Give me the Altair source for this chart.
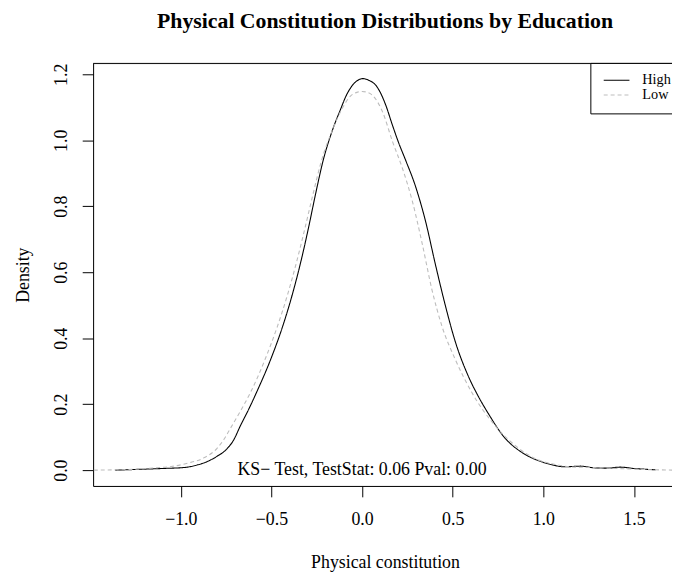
import altair as alt
import pandas as pd

# ---- data ----
high_x = [-1.362, -1.25, -1.10, -0.98, -0.907, -0.85, -0.80, -0.75, -0.71, -0.67,
          -0.625, -0.582, -0.504, -0.438, -0.383, -0.336, -0.295, -0.257, -0.216, -0.160,
          -0.120, -0.087, -0.051, -0.020, 0.005, 0.040, 0.077, 0.105, 0.131, 0.168,
          0.200, 0.240, 0.295, 0.350, 0.404, 0.459, 0.514, 0.586, 0.640, 0.696,
          0.787, 0.878, 0.987, 1.050, 1.115, 1.206, 1.28, 1.352, 1.424, 1.50, 1.62]
high_y = [0.000, 0.002, 0.005, 0.008, 0.016, 0.027, 0.042, 0.062, 0.090, 0.136,
          0.185, 0.236, 0.336, 0.436, 0.536, 0.636, 0.736, 0.836, 0.936, 1.036,
          1.092, 1.136, 1.168, 1.183, 1.187, 1.181, 1.166, 1.140, 1.106, 1.045,
          0.995, 0.940, 0.860, 0.755, 0.625, 0.500, 0.390, 0.285, 0.225, 0.172,
          0.098, 0.055, 0.026, 0.016, 0.010, 0.012, 0.007, 0.006, 0.009, 0.005, 0.001]

low_x = [-1.48, -1.35, -1.235, -1.144, -1.053, -0.962, -0.870, -0.800, -0.760, -0.725,
         -0.670, -0.615, -0.535, -0.467, -0.409, -0.359, -0.314, -0.271, -0.225, -0.160,
         -0.110, -0.060, -0.025, 0.000, 0.030, 0.058, 0.113, 0.168, 0.222, 0.277,
         0.332, 0.386, 0.441, 0.514, 0.605, 0.732, 0.842, 0.951, 1.060, 1.15,
         1.25, 1.35, 1.45, 1.55, 1.72]
low_y = [0.000, 0.001, 0.003, 0.007, 0.011, 0.021, 0.038, 0.066, 0.095, 0.128,
         0.180, 0.236, 0.336, 0.436, 0.536, 0.636, 0.736, 0.836, 0.936, 1.036,
         1.096, 1.136, 1.146, 1.148, 1.145, 1.136, 1.086, 0.996, 0.916, 0.816,
         0.686, 0.546, 0.436, 0.336, 0.236, 0.136, 0.076, 0.036, 0.018, 0.010,
         0.008, 0.006, 0.004, 0.002, 0.000]

series_names = ["High", "Low"]
series_colors = ["#000000", "#bdbdbd"]
series_dashes = [[1, 0], [4, 3]]

x_ticks = [-1.0, -0.5, 0.0, 0.5, 1.0, 1.5]
y_ticks = [0.0, 0.2, 0.4, 0.6, 0.8, 1.0, 1.2]

title_text = "Physical Constitution Distributions by Education"
x_title = "Physical constitution"
y_title = "Density"
annot_text = ["KS\u2212 Test, TestStat: 0.06 Pval: 0.00"]
annot_x = [0.0]
annot_y = [0.0]

FONT = "Liberation Serif"
W, H = 585, 427

df = pd.concat([
    pd.DataFrame({"x": high_x, "y": high_y, "series": "High"}),
    pd.DataFrame({"x": low_x, "y": low_y, "series": "Low"}),
])
annot_df = pd.DataFrame({"x": annot_x, "y": annot_y, "label": annot_text})
one = pd.DataFrame({"a": [0]})

xscale = alt.Scale(domain=[-1.484, 1.710], nice=False, zero=False)
yscale = alt.Scale(domain=[-0.048, 1.233], nice=False, zero=False)

x_axis = alt.Axis(values=x_ticks, format=".1f", grid=False, labelFont=FONT, labelFontSize=18,
                  labelColor="black", tickColor="black", tickSize=11, domainColor="black",
                  labelPadding=23, labelBaseline="middle", labelFlush=False,
                  title=x_title, titleFont=FONT, titleFontSize=18, titleFontWeight="normal",
                  titleColor="black", titleX=295, titleY=77, titleAlign="center",
                  titleBaseline="middle", labelOverlap=False)
y_axis = alt.Axis(values=y_ticks, format=".1f", grid=False, labelFont=FONT, labelFontSize=18,
                  labelColor="black", tickColor="black", tickSize=11, domainColor="black",
                  labelPadding=21, labelAngle=270, labelAlign="center", labelBaseline="middle",
                  labelFlush=False, labelOverlap=False,
                  title=y_title, titleFont=FONT, titleFontSize=18, titleFontWeight="normal",
                  titleColor="black", titleAngle=270, titleX=-70, titleY=213.5,
                  titleAlign="center", titleBaseline="middle")

lines = alt.Chart(df).mark_line(strokeWidth=1.1, interpolate="monotone", clip=True).encode(
    x=alt.X("x:Q", scale=xscale, axis=x_axis),
    y=alt.Y("y:Q", scale=yscale, axis=y_axis),
    color=alt.Color("series:N", scale=alt.Scale(domain=series_names, range=series_colors), legend=None),
    strokeDash=alt.StrokeDash("series:N", scale=alt.Scale(domain=series_names, range=series_dashes), legend=None),
)

annot = alt.Chart(annot_df).mark_text(font=FONT, fontSize=18, align="center", baseline="middle",
                                       color="black").encode(
    x="x:Q", y="y:Q", text="label:N")

title = alt.Chart(one).mark_text(font=FONT, fontSize=22, fontWeight="bold", align="center",
                                 baseline="middle", color="black", text=title_text).encode(
    x=alt.value(295), y=alt.value(-43))

top_border = alt.Chart(one).mark_rule(color="black", strokeWidth=1).encode(
    x=alt.value(0), x2=alt.value(W + 20), y=alt.value(0))

legend_box = alt.Chart(one).mark_rect(fill="white", stroke="black", strokeWidth=1).encode(
    x=alt.value(503), x2=alt.value(W + 20), y=alt.value(0), y2=alt.value(51))

legend_layers = []
for i, name in enumerate(series_names):
    yy = 17 + 15 * i
    legend_layers.append(
        alt.Chart(one).mark_rule(strokeWidth=1.1, color=series_colors[i],
                                 strokeDash=series_dashes[i]).encode(
            x=alt.value(516), x2=alt.value(542), y=alt.value(yy)))
    legend_layers.append(
        alt.Chart(one).mark_text(font=FONT, fontSize=14.4, align="left", baseline="middle",
                                 color="black", text=name).encode(
            x=alt.value(555), y=alt.value(yy)))

chart = alt.layer(lines, annot, top_border, legend_box, *legend_layers, title).properties(
    width=W, height=H,
    padding={"left": 86, "top": 53, "right": 0, "bottom": 88},
    autosize=alt.AutoSizeParams(type="none"),
).configure_view(stroke=None).configure(background="white")

chart.save("out.html", embed_options={"renderer": "svg", "actions": False})
